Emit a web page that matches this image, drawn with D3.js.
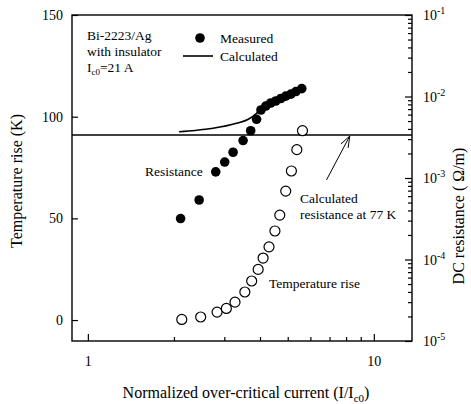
<!DOCTYPE html>
<html>
<head>
<meta charset="utf-8">
<script src="https://cdn.jsdelivr.net/npm/d3@7"></script>
<style>
  body { margin: 0; background: #fff; }
  text { font-family: "Liberation Serif", "DejaVu Serif", serif; fill: #000; }
</style>
</head>
<body>
<svg id="chart" width="471" height="404"></svg>
<script>
// normalized current I/Ic0 and temperature rise (K), open circles
const tempX = [2.13, 2.48, 2.83, 3.05, 3.27, 3.54, 3.74, 3.94, 4.10, 4.30, 4.51, 4.69, 4.92, 5.15, 5.38, 5.63];
const tempY = [0.3, 1.5, 3.9, 5.7, 8.8, 13.8, 19.2, 24.9, 30.5, 36.0, 43.8, 51.6, 63.4, 73.3, 83.8, 93.1];

// measured DC resistance (ohm/m), filled dots
const resX = [2.11, 2.45, 2.80, 3.01, 3.22, 3.49, 3.71, 3.89, 4.03, 4.19, 4.36, 4.54, 4.73, 4.92, 5.13, 5.34, 5.60];
const resY = [3.18e-4, 5.37e-4, 1.19e-3, 1.57e-3, 2.07e-3, 2.88e-3, 3.80e-3, 5.25e-3, 6.83e-3, 7.64e-3, 8.32e-3, 8.81e-3, 9.45e-3, 1.01e-2, 1.07e-2, 1.15e-2, 1.25e-2];

// calculated resistance curve
const calcX = [2.085, 2.37, 2.74, 3.31, 3.64, 3.89, 4.06, 4.69, 5.65];
const calcY = [3.70e-3, 3.83e-3, 4.07e-3, 4.69e-3, 5.25e-3, 6.22e-3, 7.23e-3, 9.6e-3, 1.29e-2];

// calculated resistance at 77 K
const r77 = 3.37e-3;

const leftTicks = [0, 50, 100, 150];
const rightTicks = [1e-5, 1e-4, 1e-3, 1e-2, 1e-1];
const rightExp = ["-5", "-4", "-3", "-2", "-1"];
const xMajor = [1, 10];
const xMinor = [2, 3, 4, 5, 6, 7, 8, 9];

const svg = d3.select("#chart");
const margin = {top: 15, right: 59, bottom: 63, left: 72};
const W = 471 - margin.left - margin.right;
const H = 404 - margin.top - margin.bottom;

const x = d3.scaleLog().domain([0.88, 13.6]).range([0, W]);
const yT = d3.scaleLinear().domain([-10.3, 150]).range([H, 0]);
const yR = d3.scaleLog().domain([1e-5, 1e-1]).range([H, 0]);

const g = svg.append("g").attr("transform", `translate(${margin.left},${margin.top})`);

// axes with inward ticks
const styleAxis = sel => {
  sel.select(".domain").remove();
  sel.selectAll("line").attr("stroke", "#000").attr("stroke-width", 1.2);
  sel.selectAll("text").style("font-family", "Liberation Serif").style("font-size", "14px");
};

g.append("g")
  .call(d3.axisLeft(yT).tickValues(leftTicks).tickSize(-6).tickPadding(9))
  .call(styleAxis);

g.append("g")
  .attr("transform", `translate(0,${H})`)
  .call(d3.axisBottom(x).tickValues(xMajor).tickFormat(d3.format("d")).tickSize(-7).tickPadding(15))
  .call(styleAxis);
g.append("g")
  .attr("transform", `translate(0,${H})`)
  .call(d3.axisBottom(x).tickValues(xMinor).tickFormat("").tickSize(-4))
  .call(styleAxis);

// right log axis: major + minor ticks
const rMinor = [];
rightTicks.slice(0, -1).forEach(t => { for (let k = 2; k <= 9; k++) rMinor.push(t * k); });
g.append("g")
  .attr("transform", `translate(${W},0)`)
  .call(d3.axisRight(yR).tickValues(rightTicks).tickFormat("").tickSize(-7))
  .call(styleAxis);
g.append("g")
  .attr("transform", `translate(${W},0)`)
  .call(d3.axisRight(yR).tickValues(rMinor).tickFormat("").tickSize(-4))
  .call(styleAxis);

const rl = g.append("g").selectAll("text").data(rightTicks).enter().append("text")
  .attr("x", W + 11)
  .attr("y", d => yR(d) + 5)
  .style("font-size", "14px");
rl.append("tspan").text("10");
rl.append("tspan").attr("dy", -6).style("font-size", "10px").text((d, i) => rightExp[i]);

// frame
g.append("rect").attr("width", W).attr("height", H)
  .attr("fill", "none").attr("stroke", "#000").attr("stroke-width", 1.4);

// 77 K resistance line
g.append("line")
  .attr("x1", 0).attr("x2", W)
  .attr("y1", yR(r77)).attr("y2", yR(r77))
  .attr("stroke", "#000").attr("stroke-width", 1.3);

// calculated curve
const calc = calcX.map((v, i) => [v, calcY[i]]);
g.append("path")
  .datum(calc)
  .attr("fill", "none").attr("stroke", "#000").attr("stroke-width", 1.6)
  .attr("d", d3.line().x(d => x(d[0])).y(d => yR(d[1])).curve(d3.curveMonotoneX));

// measured resistance
g.append("g").selectAll("circle")
  .data(resX.map((v, i) => [v, resY[i]]))
  .enter().append("circle")
  .attr("cx", d => x(d[0])).attr("cy", d => yR(d[1]))
  .attr("r", 4.8).attr("fill", "#000");

// temperature rise
g.append("g").selectAll("circle")
  .data(tempX.map((v, i) => [v, tempY[i]]))
  .enter().append("circle")
  .attr("cx", d => x(d[0])).attr("cy", d => yT(d[1]))
  .attr("r", 5).attr("fill", "#fff").attr("stroke", "#000").attr("stroke-width", 1.2);

// arrow to the 77 K line
const tip = [x(8.24), yR(r77) + 1];
const tail = [x(6.83), yR(9.46e-4)];
g.append("line")
  .attr("x1", tail[0]).attr("y1", tail[1]).attr("x2", tip[0]).attr("y2", tip[1])
  .attr("stroke", "#000").attr("stroke-width", 1);
const ang = Math.atan2(tip[1] - tail[1], tip[0] - tail[0]);
[-0.35, 0.35].forEach(da => {
  g.append("line")
    .attr("x1", tip[0]).attr("y1", tip[1])
    .attr("x2", tip[0] - 12 * Math.cos(ang + da)).attr("y2", tip[1] - 12 * Math.sin(ang + da))
    .attr("stroke", "#000").attr("stroke-width", 1);
});

// annotations (page coords)
const note = (txt, px, py, size) => svg.append("text")
  .attr("x", px).attr("y", py).style("font-size", size || "13.5px").text(txt);

note("Bi-2223/Ag", 87, 40);
note("with insulator", 87, 56);
const ic = svg.append("text").attr("x", 87).attr("y", 72).style("font-size", "13.5px");
ic.append("tspan").text("I");
ic.append("tspan").attr("dy", 3).style("font-size", "9px").text("c0");
ic.append("tspan").attr("dy", -3).text("=21 A");

svg.append("circle").attr("cx", 200).attr("cy", 38).attr("r", 4.8).attr("fill", "#000");
note("Measured", 220, 43);
svg.append("line").attr("x1", 183).attr("x2", 213).attr("y1", 56).attr("y2", 56)
  .attr("stroke", "#000").attr("stroke-width", 1.6);
note("Calculated", 220, 61);

note("Resistance", 145, 176);
note("Calculated", 300, 203);
note("resistance at 77 K", 300, 219);
note("Temperature rise", 269, 288);

// axis titles
const xt = svg.append("text").attr("x", 246).attr("y", 398)
  .attr("text-anchor", "middle").style("font-size", "16px");
xt.append("tspan").text("Normalized over-critical current (I/I");
xt.append("tspan").attr("dy", 4).style("font-size", "11px").text("c0");
xt.append("tspan").attr("dy", -4).text(")");

svg.append("text")
  .attr("transform", "translate(22,181) rotate(-90)")
  .attr("text-anchor", "middle").style("font-size", "16px")
  .text("Temperature rise (K)");

svg.append("text")
  .attr("transform", "translate(464,216) rotate(-90)")
  .attr("text-anchor", "middle").style("font-size", "16px")
  .text("DC resistance ( \u03A9/m)");
</script>
</body>
</html>
